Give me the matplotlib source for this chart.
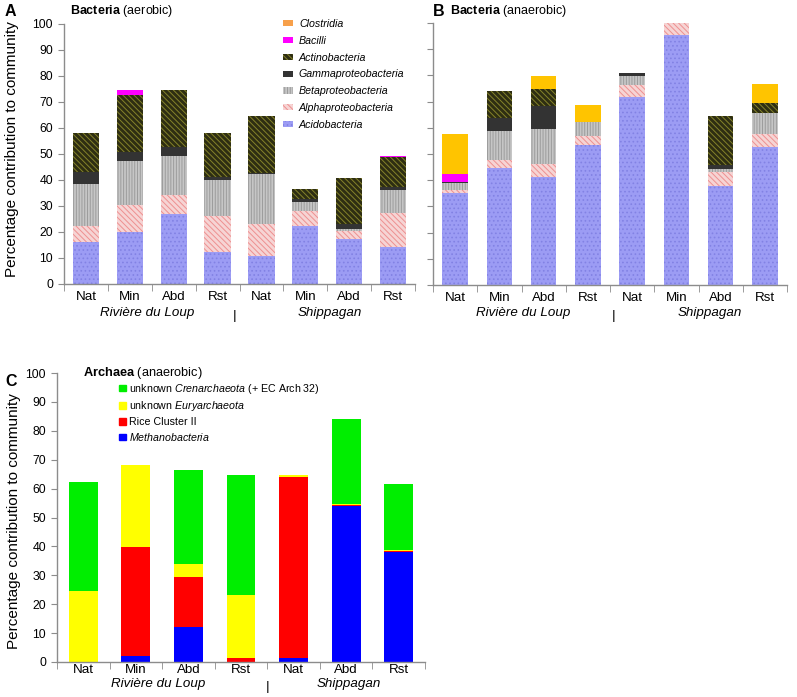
import matplotlib
matplotlib.use("Agg")
import matplotlib.pyplot as plt
import matplotlib.patches as mpatches
import numpy as np

plt.rcParams["font.family"] = ["Liberation Sans", "DejaVu Sans"]
plt.rcParams["mathtext.fontset"] = "custom"
plt.rcParams["mathtext.rm"] = "Liberation Sans"
plt.rcParams["mathtext.it"] = "Liberation Sans:italic"
plt.rcParams["mathtext.bf"] = "Liberation Sans:bold"
plt.rcParams["hatch.linewidth"] = 0.7

# ── Data ───────────────────────────────────────────────────────────────────
sites_ab = ["Nat", "Min", "Abd", "Rst", "Nat", "Min", "Abd", "Rst"]
sites_c = ["Nat", "Min", "Abd", "Rst", "Nat", "Abd", "Rst"]

bact_groups = ["Acidobacteria", "Alphaproteobacteria", "Betaproteobacteria",
               "Gammaproteobacteria", "Actinobacteria", "Bacilli", "Clostridia"]

# panel A (aerobic), stacked from the bottom
a_acido = [16.1, 20.0, 26.9, 12.4, 10.8, 22.4, 17.4, 14.1]
a_alpha = [6.1, 10.5, 7.4, 13.6, 12.2, 5.5, 3.1, 13.2]
a_beta = [16.2, 17.0, 15.0, 14.1, 19.4, 3.5, 0.6, 8.7]
a_gamma = [4.5, 3.3, 3.5, 0.9, 0.2, 1.3, 1.9, 1.3]
a_actino = [15.2, 21.9, 21.8, 17.1, 21.9, 4.0, 17.8, 11.5]
a_bacilli = [0, 1.8, 0, 0, 0, 0, 0, 0.4]
a_clostr = [0, 0, 0, 0, 0, 0, 0, 0]

# panel B (anaerobic)
b_acido = [35.1, 44.6, 41.1, 53.5, 71.6, 95.3, 37.7, 52.5]
b_alpha = [1.2, 3.1, 5.1, 3.5, 4.7, 4.7, 5.3, 5.0]
b_beta = [2.7, 11.2, 13.5, 5.4, 3.4, 0, 1.1, 8.3]
b_gamma = [0.4, 4.8, 8.5, 0, 1.2, 0, 1.8, 0]
b_actino = [0, 10.5, 6.6, 0, 0, 0, 18.7, 3.6]
b_bacilli = [2.8, 0, 0, 0, 0, 0, 0, 0]
b_clostr = [15.3, 0, 4.8, 6.2, 0, 0, 0, 7.4]

# panel C (archaea)
c_methano = [0, 2.0, 12.1, 0, 1.3, 54.0, 37.9]
c_rice = [0, 37.9, 17.2, 1.5, 62.8, 0.2, 0.6]
c_eury = [24.4, 28.1, 4.6, 21.7, 0.6, 0.3, 0.4]
c_cren = [37.9, 0, 32.7, 41.5, 0, 29.6, 22.7]
arch_labels = [r"unknown $\it{Crenarchaeota}$ (+ EC Arch 32)",
               r"unknown $\it{Euryarchaeota}$",
               "Rice Cluster II",
               r"$\it{Methanobacteria}$"]

# ── Styles ─────────────────────────────────────────────────────────────────
bact_style = {
    "Acidobacteria": dict(facecolor="#9c9cf4", edgecolor="#8282e4", hatch="...."),
    "Alphaproteobacteria": dict(facecolor="#f6d4d4", edgecolor="#ee9090", hatch="\\\\\\\\\\\\"),
    "Betaproteobacteria": dict(facecolor="#c6c6c6", edgecolor="#9c9c9c", hatch="||||||"),
    "Gammaproteobacteria": dict(facecolor="#333333", edgecolor="#333333", hatch=None),
    "Actinobacteria": dict(facecolor="#2e2e12", edgecolor="#85832a", hatch="\\\\\\\\\\\\"),
    "Bacilli": dict(facecolor="#ff00ff", edgecolor="#ff00ff", hatch=None),
    "Clostridia": dict(facecolor="#ffc400", edgecolor="#ffc400", hatch=None),
}
arch_colors = ["#0000ff", "#ff0000", "#ffff00", "#00ee00"]
AXIS_C = "#8c8c8c"
LBL = 9.6

W, H = 797, 697
fig = plt.figure(figsize=(W / 100, H / 100), dpi=100)
fig.patch.set_facecolor("white")


def style_axis(ax, n, labels, show_ylabels=True, xpad=5):
    ax.set_xlim(0, n)
    ax.set_ylim(0, 100)
    for s in ["top", "right"]:
        ax.spines[s].set_visible(False)
    for s in ["left", "bottom"]:
        ax.spines[s].set_color(AXIS_C)
        ax.spines[s].set_linewidth(1.0)
    ax.set_yticks(np.arange(0, 101, 10))
    ax.tick_params(axis="y", direction="out", length=4, color=AXIS_C,
                   labelsize=8.8, pad=4, labelleft=show_ylabels)
    ax.set_xticks(np.arange(n) + 0.5)
    ax.set_xticklabels(labels, fontsize=LBL)
    ax.set_xticks(np.arange(n + 1), minor=True)
    ax.tick_params(axis="x", which="major", length=0, pad=xpad)
    ax.tick_params(axis="x", which="minor", direction="out", length=5, color=AXIS_C)


def stacked(ax, series, styles, width):
    x = np.arange(len(series[0])) + 0.5
    bottom = np.zeros(len(x))
    for vals, st in zip(series, styles):
        vals = np.array(vals, dtype=float)
        ax.bar(x, vals, width, bottom=bottom, linewidth=0, **st)
        bottom += vals


def group_labels(ax, y, pos1, posbar, pos2):
    tr = ax.get_xaxis_transform()
    ax.text(pos1, y, "Rivière du Loup", transform=tr,
            ha="center", va="center", fontsize=LBL, style="italic")
    ax.text(posbar, y - 0.012, "|", transform=tr,
            ha="center", va="center", fontsize=LBL)
    ax.text(pos2, y, "Shippagan", transform=tr,
            ha="center", va="center", fontsize=LBL, style="italic")


# ── Panel A ────────────────────────────────────────────────────────────────
axA = fig.add_axes([64 / W, 1 - 284 / H, 351 / W, 260 / H])
stacked(axA, [a_acido, a_alpha, a_beta, a_gamma, a_actino, a_bacilli, a_clostr],
        [bact_style[g] for g in bact_groups], 0.6)
style_axis(axA, 8, sites_ab)
axA.set_ylabel("Percentage contribution to community", fontsize=11)
axA.yaxis.set_label_coords(-45 / 351, 0.52)
group_labels(axA, -29 / 260, 1.89, 3.89, 6.05)

handles = []
for g in bact_groups[::-1]:
    st = dict(bact_style[g])
    if g == "Clostridia":
        st = dict(facecolor="#f7a04a", edgecolor="#f7a04a", hatch=None)
    handles.append(mpatches.Patch(label=g, linewidth=0, **st))
axA.legend(handles=handles, loc="upper left", bbox_to_anchor=(0.61, 1.04),
           frameon=False, borderpad=0, handlelength=0.9, handleheight=0.5,
           handletextpad=0.55, labelspacing=0.64,
           prop={"size": 7.7, "style": "italic"})

fig.text(5 / W, 1 - 12 / H, "A", fontsize=11.5, fontweight="bold", va="center")
fig.text(70 / W, 1 - 11 / H, r"$\bf{Bacteria}$ (aerobic)", fontsize=9.0, va="center")

# ── Panel B ────────────────────────────────────────────────────────────────
axB = fig.add_axes([433 / W, 1 - 285 / H, 354 / W, 262 / H])
stacked(axB, [b_acido, b_alpha, b_beta, b_gamma, b_actino, b_bacilli, b_clostr],
        [bact_style[g] for g in bact_groups], 0.58)
style_axis(axB, 8, sites_ab, show_ylabels=False)
group_labels(axB, -28 / 262, 2.03, 4.07, 6.26)

fig.text(433 / W, 1 - 11 / H, "B", fontsize=11.5, fontweight="bold", va="center")
fig.text(450 / W, 1 - 11 / H, r"$\bf{Bacteria}$ (anaerobic)", fontsize=9.0, va="center")

# ── Panel C ────────────────────────────────────────────────────────────────
axC = fig.add_axes([57 / W, 1 - 662 / H, 368 / W, 289 / H])
stacked(axC, [c_methano, c_rice, c_eury, c_cren],
        [dict(color=c) for c in arch_colors], 0.55)
style_axis(axC, 7, sites_c, xpad=1.5)
axC.set_ylabel("Percentage contribution to community", fontsize=11)
axC.yaxis.set_label_coords(-36 / 368, (662 - 521) / 289)
group_labels(axC, -22 / 289, 1.93, 4.01, 5.55)

handlesC = [mpatches.Patch(color=c, label=l)
            for c, l in zip(arch_colors[::-1], arch_labels)]
axC.legend(handles=handlesC, loc="upper left", bbox_to_anchor=(0.155, 0.988),
           frameon=False, borderpad=0, handlelength=0.6, handleheight=0.6,
           handletextpad=0.3, labelspacing=0.34, prop={"size": 7.7})

fig.text(5 / W, 1 - 381 / H, "C", fontsize=11.5, fontweight="bold", va="center")
fig.text(83 / W, 1 - 373 / H, r"$\bf{Archaea}$ (anaerobic)", fontsize=9.2, va="center")

fig.savefig("out.png", dpi=100, facecolor="white")
